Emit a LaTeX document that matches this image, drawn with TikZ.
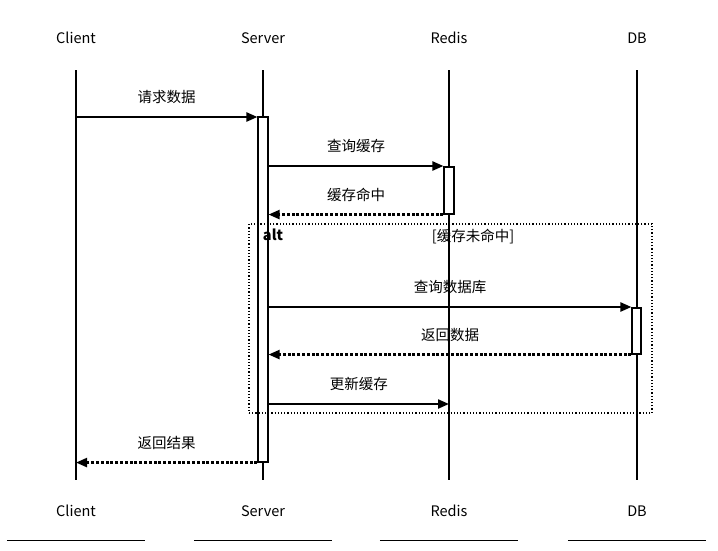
\documentclass[tikz,border=0pt]{standalone}
\usepackage{fontspec}
\setmainfont{Noto Sans CJK SC}
\usetikzlibrary{arrows.meta,calc}
\begin{document}
\begin{tikzpicture}[x=1pt,y=-1pt,
  font=\fontsize{14.5}{16}\selectfont,
  part/.style={minimum width=138pt,minimum height=58pt,inner sep=0pt},
  life/.style={line width=1.5pt},
  bar/.style={draw,fill=white,line width=1.1pt,minimum width=10pt,inner sep=0pt},
  msg/.style={line width=2.2pt,-{Triangle[length=11pt,width=9pt]}},
  ret/.style={line width=2.2pt,dash pattern=on 3pt off 1.8pt,-{Triangle[length=11pt,width=9pt]}},
  lbl/.style={midway,yshift=20pt,inner sep=0pt},
  frame/.style={line width=1.2pt,dotted}]
\useasboundingbox (0,0) rectangle (718,550);
% participants
\node[part] (ct) at (76,38) {Client};
\node[part] (st) at (263,38) {Server};
\node[part] (rt) at (449,38) {Redis};
\node[part] (dt) at (637,38) {DB};
\node[part] (cb) at (76,511) {Client};
\node[part] (sb) at (263,511) {Server};
\node[part] (rb) at (449,511) {Redis};
\node[part] (db) at (637,511) {DB};
\foreach \n in {cb,sb,rb,db}{\draw[line width=1pt] (\n.south west) -- (\n.south east);}
% lifelines
\coordinate (c0) at (76,70);  \coordinate (c1) at (76,480);
\coordinate (s0) at (263,70); \coordinate (s1) at (263,480);
\coordinate (r0) at (449,70); \coordinate (r1) at (449,480);
\coordinate (d0) at (637,70); \coordinate (d1) at (637,480);
\draw[life] (c0) -- (c1);
\draw[life] (s0) -- (s1);
\draw[life] (r0) -- (r1);
\draw[life] (d0) -- (d1);
% activation bars
\node[bar,minimum height=345pt] (sbar) at (263,289.5) {};
\node[bar,minimum height=47pt] (rbar) at (449,190.5) {};
\node[bar,minimum height=46pt,minimum width=9pt] (dbar) at (636.5,331) {};
% alt frame
\node[draw,frame,minimum width=403pt,minimum height=189pt,inner sep=0pt] (alt) at (450.5,318.5) {};
\node[font=\fontsize{14.5}{16}\selectfont\bfseries,inner sep=0pt] (altl) at (273,235) {alt};
\node[inner sep=0pt] (cond) at (473,237) {[缓存未命中]};
% messages
\coordinate (m1) at (76,117);
\draw[msg] (m1) -- (sbar.west |- m1) node[lbl] {请求数据};
\coordinate (m2) at (263,166);
\draw[msg] (sbar.east |- m2) -- (rbar.west |- m2) node[lbl] {查询缓存};
\draw[ret] (rbar.south west) -- (sbar.east |- rbar.south) node[lbl] {缓存命中};
\coordinate (m4) at (263,307);
\draw[msg] (sbar.east |- m4) -- (dbar.west |- m4) node[lbl] {查询数据库};
\draw[ret] (dbar.south west) -- (sbar.east |- dbar.south) node[lbl] {返回数据};
\coordinate (m6) at (263,404);
\draw[msg] (sbar.east |- m6) -- (r0 |- m6) node[lbl] {更新缓存};
\draw[ret] (sbar.south west) -- (c0 |- sbar.south) node[lbl] {返回结果};
\end{tikzpicture}
\end{document}
